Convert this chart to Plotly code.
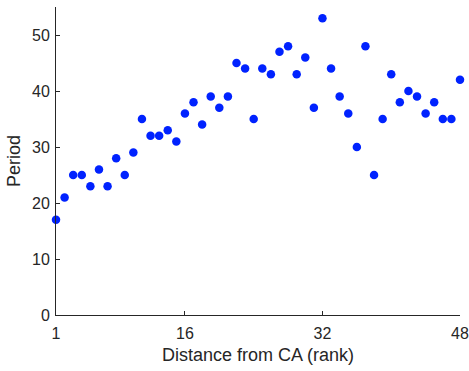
import plotly.graph_objects as go

rank = list(range(1, 49))
period = [17, 21, 25, 25, 23, 26, 23, 28, 25, 29,
          35, 32, 32, 33, 31, 36, 38, 34, 39, 37,
          39, 45, 44, 35, 44, 43, 47, 48, 43, 46,
          37, 53, 44, 39, 36, 30, 48, 25, 35, 43,
          38, 40, 39, 36, 38, 35, 35, 42]
xticks = [1, 16, 32, 48]
yticks = [0, 10, 20, 30, 40, 50]

fig = go.Figure(go.Scatter(
    x=rank, y=period, mode="markers", cliponaxis=False,
    marker=dict(color="#0022ff", size=8.5, line=dict(width=0)),
))

axis_common = dict(
    showline=True, linecolor="#262626", linewidth=1,
    ticks="inside", ticklen=4, tickcolor="#262626", tickwidth=1,
    showgrid=False, zeroline=False, mirror=False, automargin=False,
    tickfont=dict(family="Liberation Sans, Arial", size=16, color="#262626"),
    title_font=dict(family="Liberation Sans, Arial", size=18, color="#262626"),
)

fig.update_xaxes(range=[1, 48], tickvals=xticks, ticktext=[str(v) for v in xticks],
                 ticklabelstandoff=4,
                 title_text="Distance from CA (rank)", title_standoff=7, **axis_common)
fig.update_yaxes(range=[0, 55], tickvals=yticks, title_text="Period",
                 ticklabelstandoff=2,
                 title_standoff=6, **axis_common)

fig.update_layout(
    width=469, height=371,
    margin=dict(l=56, r=9, t=7, b=56),
    plot_bgcolor="white", paper_bgcolor="white",
    showlegend=False,
)

fig.write_html("out.html")
